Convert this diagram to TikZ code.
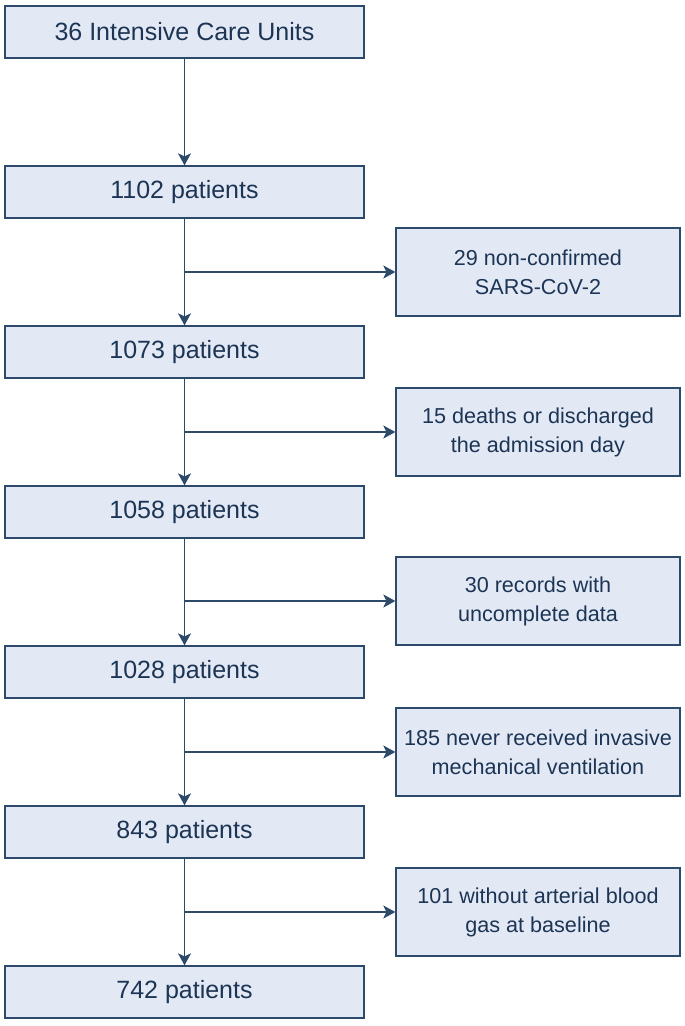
\documentclass[tikz,border=0pt]{standalone}
\usepackage{fontspec}
\setmainfont{Liberation Sans}
\usetikzlibrary{arrows.meta,positioning}
\definecolor{boxfill}{HTML}{E3E8F5}
\definecolor{boxline}{HTML}{2E4A6B}
\definecolor{inkblue}{HTML}{1C3554}

\begin{document}
\begin{tikzpicture}[
  x=1pt, y=-1pt, text=inkblue,
  mainbox/.style={draw=boxline, fill=boxfill, line width=1.3pt, minimum width=359pt, minimum height=52pt, inner sep=0pt, align=center, font=\fontsize{25}{30}\selectfont},
  exclbox/.style={draw=boxline, fill=boxfill, line width=1.3pt, minimum width=284pt, minimum height=88pt, inner sep=0pt, align=center, font=\fontsize{21.6}{29}\selectfont},
  arr/.style={-{Stealth[length=12pt,width=13pt,inset=3pt]}, draw=boxline, line width=1.6pt}
]
\useasboundingbox (0,0) rectangle (685,1026);

% ---- main flow ----
\node[mainbox] (icu)   at (184.5,32)  {36 Intensive Care Units};
\node[mainbox] (p1102) at (184.5,192) {1102 patients};
\node[mainbox] (p1073) at (184.5,352) {1073 patients};
\node[mainbox] (p1058) at (184.5,512) {1058 patients};
\node[mainbox] (p1028) at (184.5,672) {1028 patients};
\node[mainbox] (p843)  at (184.5,832) {843 patients};
\node[mainbox] (p742)  at (184.5,992) {742 patients};

% ---- exclusions ----
\node[exclbox] (ex29)  at (538,272) {29 non-confirmed\\SARS-CoV-2};
\node[exclbox] (ex15)  at (538,432) {15 deaths or discharged\\the admission day};
\node[exclbox] (ex30)  at (538,601) {30 records with\\uncomplete data};
\node[exclbox] (ex185) at (538,752) {185 never received invasive\\mechanical ventilation};
\node[exclbox] (ex101) at (538,912) {101 without arterial blood\\gas at baseline};

\draw[arr] (icu) -- (p1102);
\draw[arr] (p1102) -- (p1073);
\draw[arr] (p1073) -- (p1058);
\draw[arr] (p1058) -- (p1028);
\draw[arr] (p1028) -- (p843);
\draw[arr] (p843) -- (p742);

\draw[arr] (ex29.west -| p1102.south) -- (ex29.west);
\draw[arr] (ex15.west -| p1073.south) -- (ex15.west);
\draw[arr] (ex30.west -| p1058.south) -- (ex30.west);
\draw[arr] (ex185.west -| p1028.south) -- (ex185.west);
\draw[arr] (ex101.west -| p843.south) -- (ex101.west);

\end{tikzpicture}
\end{document}
